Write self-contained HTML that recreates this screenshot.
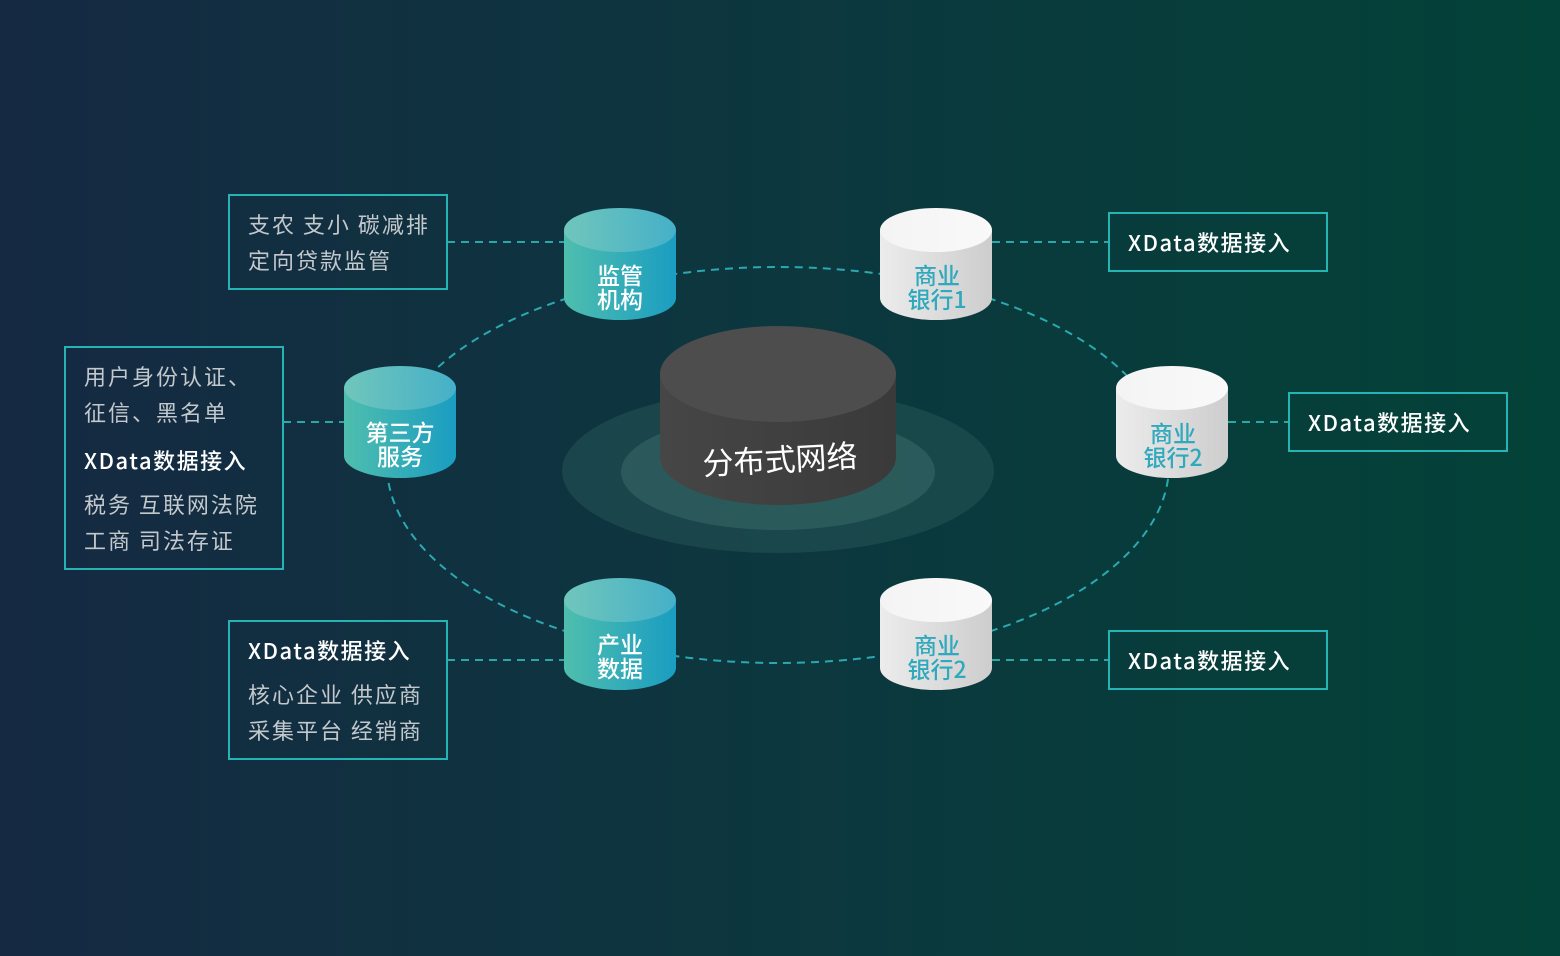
<!DOCTYPE html>
<html><head><meta charset="utf-8"><style>
html,body{margin:0;padding:0;width:1560px;height:956px;overflow:hidden}
svg{display:block}
text{font-family:"Noto Sans CJK SC","Liberation Sans",sans-serif}
</style></head><body>
<svg width="1560" height="956" viewBox="0 0 1560 956" xmlns="http://www.w3.org/2000/svg">
<defs>
<linearGradient id="bg" x1="0" y1="0" x2="1" y2="0">
<stop offset="0" stop-color="#152942"/><stop offset="0.45" stop-color="#0d363f"/><stop offset="1" stop-color="#034238"/>
</linearGradient>
<linearGradient id="tside" x1="0" y1="0" x2="1" y2="0"><stop offset="0" stop-color="#4fbeae"/><stop offset="1" stop-color="#1a9dc1"/></linearGradient>
<linearGradient id="ttop" x1="0" y1="0" x2="1" y2="0"><stop offset="0" stop-color="#70c6bb"/><stop offset="1" stop-color="#45b0c8"/></linearGradient>
<linearGradient id="wside" x1="0" y1="0" x2="1" y2="0"><stop offset="0" stop-color="#ececec"/><stop offset="1" stop-color="#cdcdcd"/></linearGradient>
<linearGradient id="wtop" x1="0" y1="0" x2="1" y2="0"><stop offset="0" stop-color="#f4f4f4"/><stop offset="1" stop-color="#f9f9f9"/></linearGradient>
<linearGradient id="dside" x1="0" y1="0" x2="1" y2="0"><stop offset="0" stop-color="#464646"/><stop offset="1" stop-color="#3a3a3a"/></linearGradient>
</defs>
<rect width="1560" height="956" fill="url(#bg)"/>

<ellipse cx="778" cy="471" rx="216" ry="82" fill="#2a5a5a" opacity="0.45"/>
<ellipse cx="778" cy="472" rx="157" ry="58" fill="#3a6a6a" opacity="0.55"/>

<ellipse cx="778" cy="465" rx="391" ry="198" fill="none" stroke="#2aa9b0" stroke-width="2" stroke-dasharray="8 6"/>

<g stroke="#2aa7a7" stroke-width="2" stroke-dasharray="8 6">
<line x1="447" y1="242" x2="564" y2="242"/>
<line x1="992" y1="242" x2="1109" y2="242"/>
<line x1="1228" y1="422" x2="1289" y2="422"/>
<line x1="283" y1="422" x2="344" y2="422"/>
<line x1="447" y1="660" x2="564" y2="660"/>
<line x1="992" y1="660" x2="1109" y2="660"/>
</g>

<path d="M660 374 L660 457 A118 48 0 0 0 896 457 L896 374 Z" fill="url(#dside)"/>
<ellipse cx="778" cy="374" rx="118" ry="48" fill="#4d4d4d"/>
<text x="780" y="471" font-size="31" fill="#fff" text-anchor="middle" transform="rotate(-3 780 460)">分布式网络</text>

<g font-weight="500">
<g>
<path d="M564 230 L564 298 A56 22 0 0 0 676 298 L676 230 Z" fill="url(#tside)"/>
<ellipse cx="620" cy="230" rx="56" ry="22" fill="url(#ttop)"/>
<text x="620" y="284" font-size="23" fill="#fff" text-anchor="middle">监管</text>
<text x="620" y="308" font-size="23" fill="#fff" text-anchor="middle">机构</text>
</g>
<g>
<path d="M344 388 L344 456 A56 22 0 0 0 456 456 L456 388 Z" fill="url(#tside)"/>
<ellipse cx="400" cy="388" rx="56" ry="22" fill="url(#ttop)"/>
<text x="400" y="441" font-size="23" fill="#fff" text-anchor="middle">第三方</text>
<text x="400" y="465" font-size="23" fill="#fff" text-anchor="middle">服务</text>
</g>
<g>
<path d="M564 600 L564 668 A56 22 0 0 0 676 668 L676 600 Z" fill="url(#tside)"/>
<ellipse cx="620" cy="600" rx="56" ry="22" fill="url(#ttop)"/>
<text x="620" y="653" font-size="23" fill="#fff" text-anchor="middle">产业</text>
<text x="620" y="677" font-size="23" fill="#fff" text-anchor="middle">数据</text>
</g>
<g>
<path d="M880 230 L880 298 A56 22 0 0 0 992 298 L992 230 Z" fill="url(#wside)"/>
<ellipse cx="936" cy="230" rx="56" ry="22" fill="url(#wtop)"/>
<text x="937" y="284" font-size="23" fill="#2fa9bd" text-anchor="middle">商业</text>
<text x="937" y="308" font-size="23" fill="#2fa9bd" text-anchor="middle">银行1</text>
</g>
<g>
<path d="M1116 388 L1116 456 A56 22 0 0 0 1228 456 L1228 388 Z" fill="url(#wside)"/>
<ellipse cx="1172" cy="388" rx="56" ry="22" fill="url(#wtop)"/>
<text x="1173" y="442" font-size="23" fill="#2fa9bd" text-anchor="middle">商业</text>
<text x="1173" y="466" font-size="23" fill="#2fa9bd" text-anchor="middle">银行2</text>
</g>
<g>
<path d="M880 600 L880 668 A56 22 0 0 0 992 668 L992 600 Z" fill="url(#wside)"/>
<ellipse cx="936" cy="600" rx="56" ry="22" fill="url(#wtop)"/>
<text x="937" y="654" font-size="23" fill="#2fa9bd" text-anchor="middle">商业</text>
<text x="937" y="678" font-size="23" fill="#2fa9bd" text-anchor="middle">银行2</text>
</g>
</g>

<g fill="none" stroke="#26b3b3" stroke-width="2">
<rect x="229" y="195" width="218" height="94"/>
<rect x="65" y="347" width="218" height="222"/>
<rect x="229" y="621" width="218" height="138"/>
<rect x="1109" y="213" width="218" height="58"/>
<rect x="1289" y="393" width="218" height="58"/>
<rect x="1109" y="631" width="218" height="58"/>
</g>
<g font-size="22" fill="#c3c8cc" letter-spacing="2">
<text x="248" y="233">支农 支小 碳减排</text>
<text x="248" y="269">定向贷款监管</text>
<text x="84" y="385">用户身份认证、</text>
<text x="84" y="421">征信、黑名单</text>
<text x="84" y="513">税务 互联网法院</text>
<text x="84" y="549">工商 司法存证</text>
<text x="248" y="703">核心企业 供应商</text>
<text x="248" y="739">采集平台 经销商</text>
</g>
<g font-size="22" fill="#ffffff" font-weight="500" letter-spacing="1.5">
<text x="84" y="469">XData数据接入</text>
<text x="248" y="659">XData数据接入</text>
<text x="1128" y="251">XData数据接入</text>
<text x="1308" y="431">XData数据接入</text>
<text x="1128" y="669">XData数据接入</text>
</g>
</svg>
</body></html>
